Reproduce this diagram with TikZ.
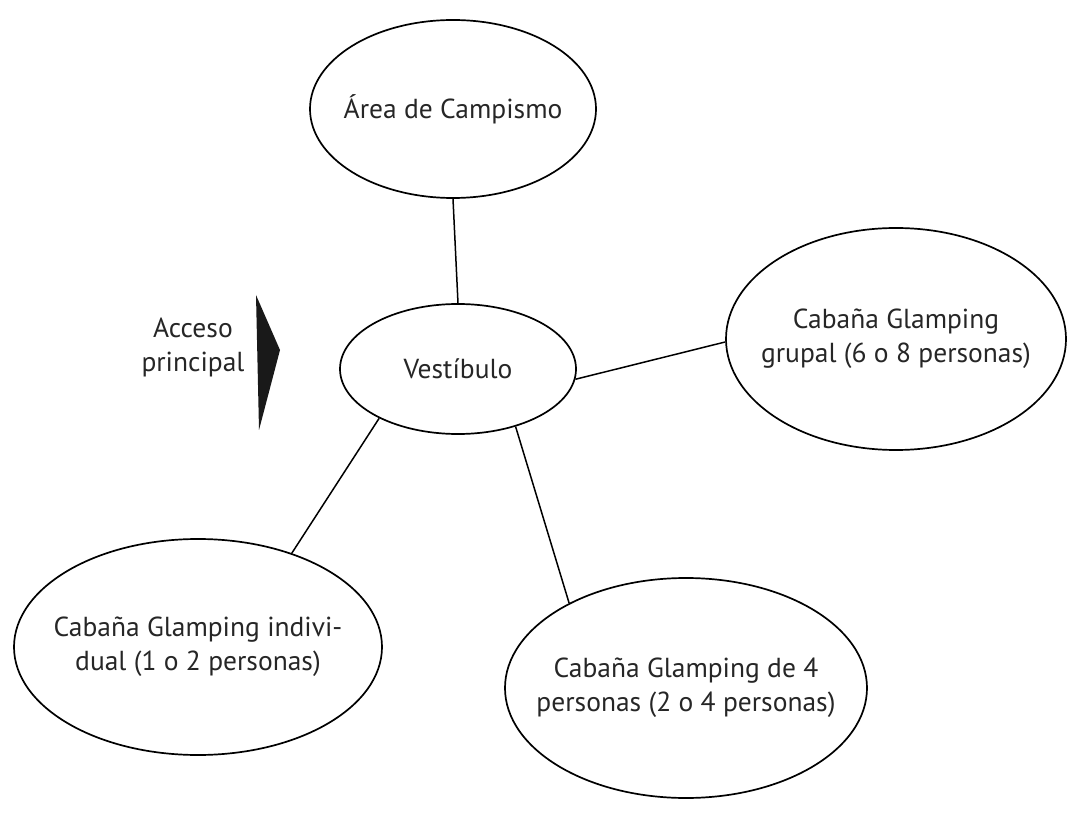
\documentclass[tikz,border=0pt]{standalone}
\usepackage{fontspec}
\setmainfont{PT Sans}
\usetikzlibrary{shapes.geometric}
\begin{document}
\begin{tikzpicture}[x=1pt,y=-1pt,
  bubble/.style={draw, ellipse, line width=1.7pt, inner sep=0pt},
  link/.style={line width=1.5pt},
  lbl/.style={align=center, inner sep=0pt, font=\fontsize{27.5}{34}\selectfont, text=black!85}]
\useasboundingbox (0,0) rectangle (1080,818);
\node[bubble, minimum width=286pt, minimum height=178pt] (camp) at (453,109) {};
\node[bubble, minimum width=236pt, minimum height=130pt] (vest) at (458,369) {};
\node[bubble, minimum width=340pt, minimum height=222pt] (grup) at (896,339) {};
\node[bubble, minimum width=368pt, minimum height=216pt] (indiv) at (198,647) {};
\node[bubble, minimum width=362pt, minimum height=220pt] (cuatro) at (686,688) {};
\node[lbl] (campT) at (camp) {Área de Campismo};
\node[lbl] (vestT) at (vest) {Vestíbulo};
\node[lbl] (grupT) at (grup) {Cabaña Glamping\\grupal (6 o 8 personas)};
\node[lbl] (indivT) at (indiv) {Cabaña Glamping indivi-\\dual (1 o 2 personas)};
\node[lbl] (cuatroT) at (cuatro) {Cabaña Glamping de 4\\personas (2 o 4 personas)};
\node[lbl] (acceso) at (193,347) {Acceso\\principal};
\coordinate (t1) at (256,295);
\coordinate (t2) at (280,350);
\coordinate (t3) at (259,430);
\fill[black!90] (t1) -- (t2) -- (t3) -- cycle;
\draw[link] (camp.south) -- (vest.north);
\draw[link] (vest.-5) -- (grup.181);
\draw[link] (vest.212) -- (indiv.45);
\draw[link] (vest.-45) -- (cuatro.144);
\end{tikzpicture}
\end{document}
